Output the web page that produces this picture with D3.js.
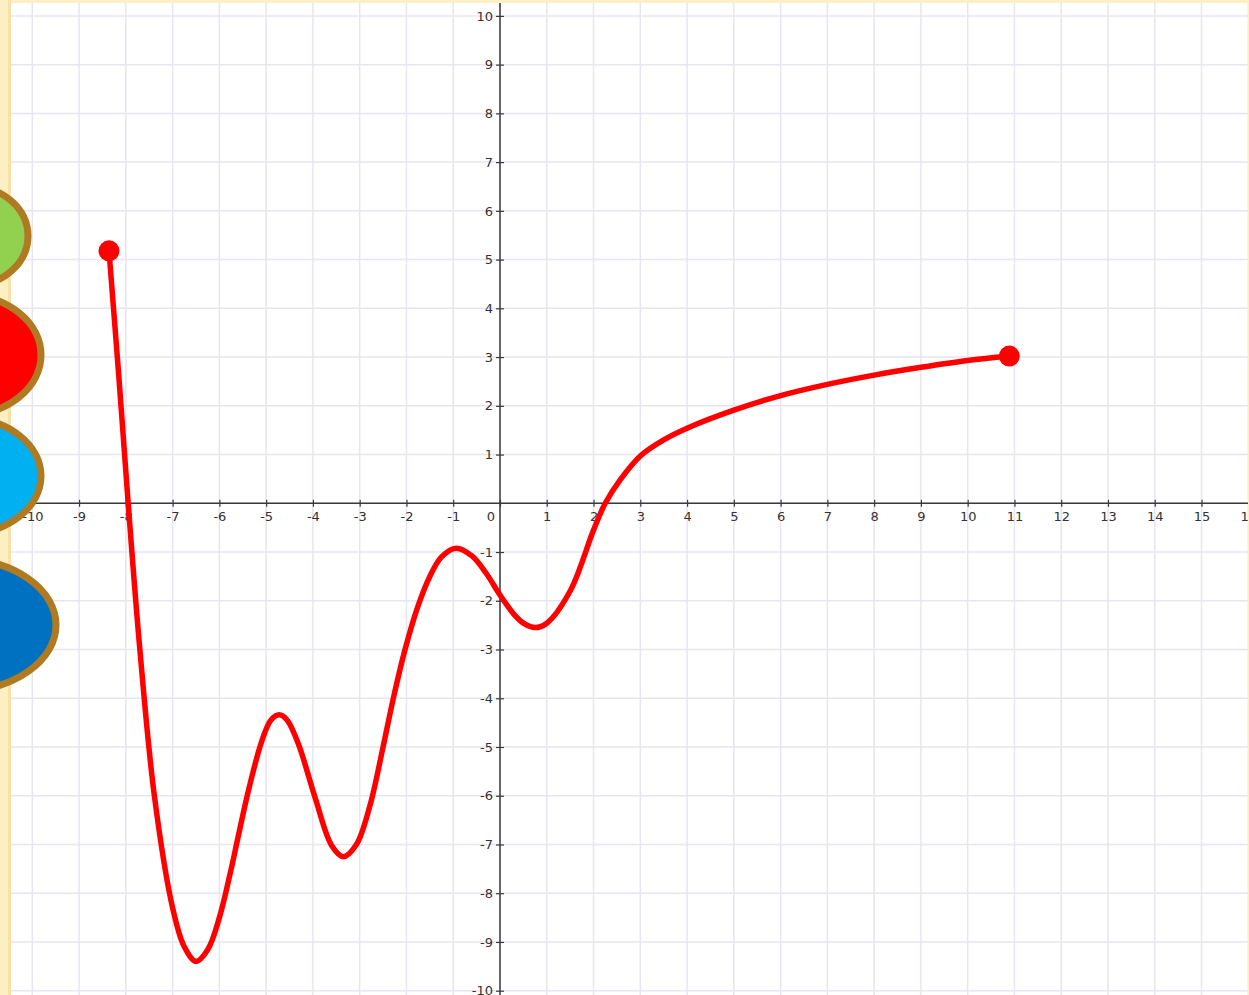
<!DOCTYPE html>
<html>
<head>
<meta charset="utf-8">
<script src="https://cdn.jsdelivr.net/npm/d3@7"></script>
<style>
  html, body { margin: 0; padding: 0; background: #FCEFC4; }
  svg { display: block; }
</style>
</head>
<body>
<svg id="chart" width="1249" height="995"></svg>
<script>
// ---- data ----
const xTicks = [-10,-9,-8,-7,-6,-5,-4,-3,-2,-1,0,1,2,3,4,5,6,7,8,9,10,11,12,13,14,15,16];
const yTicks = [10,9,8,7,6,5,4,3,2,1,-1,-2,-3,-4,-5,-6,-7,-8,-9,-10];
const curveX = [-8.36,-8.15,-7.95,-7.7,-7.39,-7.0,-6.75,-6.5,-6.25,-6.0,-5.77,-5.6,-5.38,-5.1,-4.9,-4.72,-4.55,-4.31,-3.95,-3.6,-3.35,-3.07,-2.78,-2.5,-2.28,-2.03,-1.75,-1.5,-1.25,-0.94,-0.6,-0.3,0,0.3,0.5,0.75,1.0,1.5,2.0,2.25,2.57,3.0,3.5,4,5,6,7,8,9,10,10.89];
const curveY = [5.18,2.6,0,-3.0,-6.0,-8.3,-9.1,-9.4,-9.16,-8.5,-7.6,-6.85,-5.9,-4.9,-4.45,-4.34,-4.45,-4.94,-6.05,-7.02,-7.25,-7.0,-6.2,-5.0,-4.0,-3.0,-2.1,-1.5,-1.1,-0.92,-1.08,-1.43,-1.88,-2.28,-2.46,-2.55,-2.46,-1.8,-0.55,0,0.48,0.97,1.3,1.54,1.91,2.21,2.44,2.63,2.79,2.93,3.02];
const endpointsX = [-8.36, 10.89];
const endpointsY = [5.18, 3.02];
const blobColors = ["#92D050", "#FF0000", "#00B0F0", "#0070C0"];

// ---- layout ----
const svg = d3.select("#chart");
const W = 1249, H = 995;
const plot = {left: 11, top: 3, right: 1248, bottom: 995};

const x = d3.scaleLinear().domain([-10, 16]).range([32.3, 1248.3]);
const y = d3.scaleLinear().domain([10, -10]).range([15.9, 990.7]);

// background frame
svg.append("rect").attr("x",0).attr("y",0).attr("width",W).attr("height",H).attr("fill","#FCEFC4");
svg.append("rect").attr("x",8).attr("y",0).attr("width",3).attr("height",H).attr("fill","#F6E2A8");
svg.append("rect").attr("x",plot.left).attr("y",plot.top)
  .attr("width",plot.right-plot.left).attr("height",plot.bottom-plot.top).attr("fill","#ffffff");

svg.append("defs").append("clipPath").attr("id","pclip")
  .append("rect").attr("x",plot.left).attr("y",plot.top)
  .attr("width",plot.right-plot.left).attr("height",plot.bottom-plot.top);

const g = svg.append("g").attr("clip-path","url(#pclip)");

// grid
const gridX = d3.range(-10, 17);
const gridY = d3.range(-10, 11);
g.selectAll("line.gx").data(gridX).join("line")
  .attr("x1", d=>x(d)).attr("x2", d=>x(d)).attr("y1", plot.top).attr("y2", plot.bottom)
  .attr("stroke","#E8E5F0").attr("stroke-width",1.5);
g.selectAll("line.gy").data(gridY).join("line")
  .attr("y1", d=>y(d)).attr("y2", d=>y(d)).attr("x1", plot.left).attr("x2", plot.right)
  .attr("stroke","#E8E5F0").attr("stroke-width",1.5);

// axes
const axisColor = "#3a3a3a";
const fontFam = "'DejaVu Sans', Verdana, sans-serif";
const fmt = d => String(d);

const xAxis = g.append("g").attr("transform", `translate(0,${y(0)})`)
  .call(d3.axisBottom(x).tickValues(xTicks).tickSizeOuter(0).tickFormat(fmt));
xAxis.select(".domain").remove();
xAxis.selectAll(".tick line").attr("y1",-3.5).attr("y2",3.5).attr("stroke",axisColor).attr("stroke-width",1.2);
xAxis.selectAll(".tick text").attr("y",8.5).attr("fill","#333").attr("font-size","13px").attr("font-family",fontFam)
  .attr("dx", d => d === 0 ? -9.5 : 0);
g.append("line").attr("x1",plot.left).attr("x2",plot.right).attr("y1",y(0)).attr("y2",y(0))
  .attr("stroke",axisColor).attr("stroke-width",1.5);

const yAxis = g.append("g").attr("transform", `translate(${x(0)},0)`)
  .call(d3.axisLeft(y).tickValues(yTicks).tickSizeOuter(0).tickFormat(fmt));
yAxis.select(".domain").remove();
yAxis.selectAll(".tick line").attr("x1",-4).attr("x2",4).attr("stroke",axisColor).attr("stroke-width",1.2);
yAxis.selectAll(".tick text").attr("x",-7).attr("fill","#333").attr("font-size","13px").attr("font-family",fontFam);
g.append("line").attr("x1",x(0)).attr("x2",x(0)).attr("y1",plot.top).attr("y2",plot.bottom)
  .attr("stroke",axisColor).attr("stroke-width",1.5);

// curve
const pts = curveX.map((v,i)=>[v, curveY[i]]);
const line = d3.line().x(d=>x(d[0])).y(d=>y(d[1])).curve(d3.curveCatmullRom.alpha(0.5));
g.append("path").datum(pts).attr("d", line)
  .attr("fill","none").attr("stroke","#FF0000").attr("stroke-width",5.5)
  .attr("stroke-linejoin","round").attr("stroke-linecap","round");

g.selectAll("circle.end").data(endpointsX.map((v,i)=>[v, endpointsY[i]])).join("circle")
  .attr("cx", d=>x(d[0])).attr("cy", d=>y(d[1])).attr("r", 10.5).attr("fill","#FF0000");

// decorative blobs on the left edge
const blobs = [
  {cx:-30, cy:236, rx:58, ry:50},
  {cx:-35, cy:355, rx:76, ry:60},
  {cx:-35, cy:476, rx:76, ry:58},
  {cx:-40, cy:625, rx:96, ry:66}
];
svg.selectAll("ellipse.blob").data(blobs).join("ellipse")
  .attr("cx", d=>d.cx).attr("cy", d=>d.cy).attr("rx", d=>d.rx).attr("ry", d=>d.ry)
  .attr("fill", (d,i)=>blobColors[i]).attr("stroke","#B07A22").attr("stroke-width",7);
</script>
</body>
</html>
